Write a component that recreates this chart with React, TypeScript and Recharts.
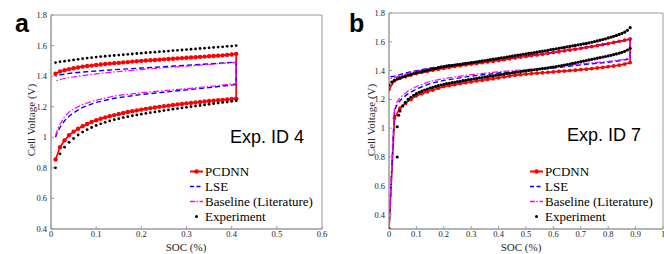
import React from 'react';
import { LineChart, Line, XAxis, YAxis, Legend, ReferenceArea } from 'recharts';

// ---------- Panel a (Exp. ID 4) ----------
const socA = [0.01, 0.02, 0.03, 0.04, 0.05, 0.06, 0.07, 0.08, 0.09, 0.1, 0.11, 0.12, 0.13, 0.14, 0.15, 0.16, 0.17, 0.18, 0.19, 0.2, 0.21, 0.22, 0.23, 0.24, 0.25, 0.26, 0.27, 0.28, 0.29, 0.3, 0.31, 0.32, 0.33, 0.34, 0.35, 0.36, 0.37, 0.38, 0.39, 0.4, 0.41];
const pcdnnA_lower = [0.855, 0.935, 0.98, 1.013, 1.037, 1.056, 1.072, 1.087, 1.1, 1.111, 1.121, 1.13, 1.138, 1.145, 1.152, 1.159, 1.165, 1.171, 1.176, 1.181, 1.186, 1.191, 1.195, 1.199, 1.203, 1.207, 1.211, 1.215, 1.218, 1.222, 1.225, 1.228, 1.231, 1.234, 1.237, 1.24, 1.243, 1.245, 1.248, 1.25, 1.253];
const pcdnnA_upper = [1.416, 1.43, 1.439, 1.446, 1.452, 1.457, 1.462, 1.466, 1.469, 1.473, 1.476, 1.479, 1.482, 1.485, 1.487, 1.49, 1.492, 1.495, 1.497, 1.5, 1.502, 1.504, 1.506, 1.508, 1.51, 1.512, 1.514, 1.516, 1.518, 1.52, 1.522, 1.524, 1.526, 1.528, 1.53, 1.532, 1.534, 1.536, 1.539, 1.542, 1.546];
const expA_upper = [1.489, 1.494, 1.498, 1.502, 1.506, 1.51, 1.514, 1.518, 1.521, 1.525, 1.528, 1.53, 1.533, 1.535, 1.538, 1.54, 1.543, 1.545, 1.548, 1.55, 1.553, 1.555, 1.557, 1.56, 1.562, 1.564, 1.567, 1.569, 1.571, 1.574, 1.576, 1.578, 1.581, 1.583, 1.585, 1.588, 1.59, 1.592, 1.595, 1.597, 1.6];
const expA_lower = [0.8, 0.892, 0.935, 0.967, 0.992, 1.015, 1.034, 1.05, 1.064, 1.077, 1.088, 1.098, 1.107, 1.115, 1.122, 1.129, 1.135, 1.141, 1.146, 1.151, 1.156, 1.161, 1.166, 1.17, 1.175, 1.179, 1.184, 1.188, 1.192, 1.196, 1.2, 1.204, 1.208, 1.212, 1.216, 1.22, 1.224, 1.228, 1.231, 1.235, 1.239];
const socA_lowerSparse = [0.01, 0.015, 0.02, 0.03, 0.04, 0.05, 0.07, 0.1, 0.14, 0.2, 0.25, 0.3, 0.35, 0.41];
const socA_upperSparse = [0.01, 0.02, 0.04, 0.07, 0.1, 0.15, 0.2, 0.25, 0.3, 0.35, 0.41];
const lseA_lower = [1.0, 1.04, 1.065, 1.108, 1.138, 1.16, 1.196, 1.228, 1.255, 1.28, 1.295, 1.31, 1.325, 1.345];
const lseA_upper = [1.398, 1.408, 1.418, 1.427, 1.434, 1.444, 1.453, 1.462, 1.471, 1.48, 1.492];
const baseA_lower = [1.01, 1.055, 1.085, 1.135, 1.165, 1.185, 1.215, 1.243, 1.27, 1.292, 1.305, 1.318, 1.332, 1.352];
const baseA_upper = [1.367, 1.378, 1.391, 1.404, 1.415, 1.43, 1.443, 1.455, 1.466, 1.477, 1.49];
const xTicksA = [0, 0.1, 0.2, 0.3, 0.4, 0.5, 0.6];
const yTicksA = [0.4, 0.6, 0.8, 1, 1.2, 1.4, 1.6, 1.8];

// ---------- Panel b (Exp. ID 7) ----------
const socB2 = [0, 0.02, 0.04, 0.06, 0.08, 0.1, 0.12, 0.14, 0.16, 0.18, 0.2, 0.22, 0.24, 0.26, 0.28, 0.3, 0.32, 0.34, 0.36, 0.38, 0.4, 0.42, 0.44, 0.46, 0.48, 0.5, 0.52, 0.54, 0.56, 0.58, 0.6, 0.62, 0.64, 0.66, 0.68, 0.7, 0.72, 0.74, 0.76, 0.78, 0.8, 0.82, 0.84, 0.86, 0.88];
const pcdnnB_lower = [0.3, 1.07, 1.14, 1.172, 1.2, 1.225, 1.24, 1.253, 1.265, 1.278, 1.289, 1.296, 1.303, 1.31, 1.316, 1.322, 1.328, 1.333, 1.339, 1.344, 1.35, 1.356, 1.362, 1.367, 1.372, 1.376, 1.379, 1.382, 1.385, 1.388, 1.391, 1.394, 1.397, 1.4, 1.403, 1.407, 1.41, 1.414, 1.418, 1.422, 1.427, 1.432, 1.438, 1.445, 1.456];
const pcdnnB_upper = [1.27, 1.33, 1.347, 1.358, 1.369, 1.38, 1.388, 1.395, 1.403, 1.41, 1.417, 1.423, 1.429, 1.434, 1.44, 1.445, 1.45, 1.455, 1.46, 1.465, 1.47, 1.476, 1.482, 1.488, 1.494, 1.499, 1.504, 1.509, 1.514, 1.52, 1.525, 1.531, 1.537, 1.543, 1.549, 1.555, 1.561, 1.567, 1.573, 1.58, 1.587, 1.595, 1.603, 1.611, 1.62];
const socB1 = [0, 0.01, 0.02, 0.03, 0.04, 0.05, 0.06, 0.07, 0.08, 0.09, 0.1, 0.11, 0.12, 0.13, 0.14, 0.15, 0.16, 0.17, 0.18, 0.19, 0.2, 0.21, 0.22, 0.23, 0.24, 0.25, 0.26, 0.27, 0.28, 0.29, 0.3, 0.31, 0.32, 0.33, 0.34, 0.35, 0.36, 0.37, 0.38, 0.39, 0.4, 0.41, 0.42, 0.43, 0.44, 0.45, 0.46, 0.47, 0.48, 0.49, 0.5, 0.51, 0.52, 0.53, 0.54, 0.55, 0.56, 0.57, 0.58, 0.59, 0.6, 0.61, 0.62, 0.63, 0.64, 0.65, 0.66, 0.67, 0.68, 0.69, 0.7, 0.71, 0.72, 0.73, 0.74, 0.75, 0.76, 0.77, 0.78, 0.79, 0.8, 0.81, 0.82, 0.83, 0.84, 0.85, 0.86, 0.87, 0.88];
const expB_upper = [1.3, 1.32, 1.333, 1.342, 1.35, 1.357, 1.363, 1.369, 1.375, 1.38, 1.385, 1.39, 1.394, 1.398, 1.403, 1.407, 1.411, 1.415, 1.42, 1.424, 1.428, 1.431, 1.434, 1.436, 1.439, 1.442, 1.444, 1.447, 1.45, 1.452, 1.455, 1.458, 1.461, 1.464, 1.467, 1.47, 1.473, 1.476, 1.479, 1.482, 1.485, 1.488, 1.491, 1.494, 1.498, 1.501, 1.504, 1.507, 1.51, 1.513, 1.516, 1.519, 1.522, 1.525, 1.528, 1.532, 1.535, 1.538, 1.541, 1.545, 1.548, 1.551, 1.555, 1.558, 1.561, 1.565, 1.568, 1.572, 1.575, 1.579, 1.582, 1.586, 1.589, 1.593, 1.597, 1.602, 1.606, 1.611, 1.616, 1.621, 1.627, 1.632, 1.638, 1.644, 1.651, 1.658, 1.667, 1.68, 1.698];
const expB_startSoc = [0.03, 0.03, 0.035];
const expB_startV = [0.8, 1.01, 1.09];
const expB_lower = [1.12, 1.155, 1.18, 1.2, 1.215, 1.228, 1.24, 1.249, 1.257, 1.265, 1.272, 1.278, 1.284, 1.29, 1.295, 1.3, 1.305, 1.309, 1.312, 1.316, 1.319, 1.323, 1.326, 1.33, 1.333, 1.337, 1.34, 1.343, 1.346, 1.349, 1.352, 1.355, 1.358, 1.361, 1.364, 1.367, 1.37, 1.373, 1.376, 1.379, 1.381, 1.384, 1.387, 1.39, 1.393, 1.396, 1.398, 1.401, 1.403, 1.406, 1.408, 1.411, 1.414, 1.416, 1.419, 1.422, 1.425, 1.428, 1.432, 1.435, 1.439, 1.442, 1.446, 1.45, 1.454, 1.458, 1.462, 1.466, 1.47, 1.474, 1.478, 1.482, 1.486, 1.49, 1.494, 1.498, 1.502, 1.506, 1.511, 1.516, 1.521, 1.527, 1.534, 1.543, 1.555];
const socB_lowerSparse = [0, 0.02, 0.03, 0.04, 0.05, 0.07, 0.1, 0.15, 0.2, 0.3, 0.4, 0.5, 0.6, 0.7, 0.8, 0.85, 0.88];
const socB_upperSparse = [0, 0.02, 0.04, 0.07, 0.1, 0.15, 0.2, 0.3, 0.4, 0.5, 0.6, 0.7, 0.8, 0.85, 0.88];
const lseB_lower = [0.3, 1.125, 1.165, 1.19, 1.21, 1.24, 1.272, 1.31, 1.332, 1.362, 1.383, 1.4, 1.418, 1.44, 1.458, 1.47, 1.482];
const lseB_upper = [1.355, 1.362, 1.372, 1.388, 1.4, 1.418, 1.433, 1.456, 1.478, 1.502, 1.528, 1.556, 1.588, 1.605, 1.618];
const baseB_lower = [0.3, 1.14, 1.185, 1.21, 1.228, 1.258, 1.29, 1.325, 1.345, 1.372, 1.392, 1.407, 1.424, 1.446, 1.464, 1.476, 1.488];
const baseB_upper = [1.343, 1.352, 1.364, 1.382, 1.395, 1.414, 1.43, 1.454, 1.477, 1.501, 1.527, 1.555, 1.587, 1.604, 1.616];
const xTicksB = [0, 0.1, 0.2, 0.3, 0.4, 0.5, 0.6, 0.7, 0.8, 0.9, 1];
const yTicksB = [0.4, 0.6, 0.8, 1, 1.2, 1.4, 1.6, 1.8];

const legendNames = ['PCDNN', 'LSE', 'Baseline (Literature)', 'Experiment'];

// ---------- helpers ----------
type Pt = { x: number; y: number };
const pts = (xs: number[], ys: number[]): Pt[] => xs.map((x, i) => ({ x, y: ys[i] }));
const loop = (xl: number[], yl: number[], xu: number[], yu: number[]): Pt[] => [
  ...pts(xl, yl),
  ...pts(xu, yu).reverse(),
];

const RED = '#ff0000';
const BLUE = '#0000ff';
const MAG = '#ff00ff';
const AXIS = '#9a9a9a';
const SERIF = "'Liberation Serif', 'DejaVu Serif', 'Times New Roman', serif";
const SANS = "'Liberation Sans', Arial, sans-serif";

const tickStyle = { fontFamily: SERIF, fontSize: 8.5, fill: '#262626' };

const LegendBox = () => (
  <div style={{ fontFamily: SERIF, fontSize: 13, color: '#000', lineHeight: '15px' }}>
    {legendNames.map((name, i) => (
      <div key={name} style={{ display: 'flex', alignItems: 'center', height: 15 }}>
        <svg width={14} height={15} style={{ flex: 'none' }}>
          {i === 0 && (
            <g>
              <line x1={0} y1={7.5} x2={13} y2={7.5} stroke={RED} strokeWidth={2} />
              <circle cx={6.5} cy={7.5} r={2.2} fill={RED} />
            </g>
          )}
          {i === 1 && <line x1={0} y1={7.5} x2={13} y2={7.5} stroke={BLUE} strokeWidth={1.6} strokeDasharray="4 2.5" />}
          {i === 2 && <line x1={0} y1={7.5} x2={13} y2={7.5} stroke={MAG} strokeWidth={1.4} strokeDasharray="5 1.5 1.5 1.5" />}
          {i === 3 && <circle cx={6.5} cy={7.5} r={1.5} fill="#000" />}
        </svg>
        <span style={{ marginLeft: 1, whiteSpace: 'nowrap', fontFamily: SERIF }}>{name}</span>
      </div>
    ))}
  </div>
);

type PanelProps = {
  width: number;
  yAxisWidth: number;
  marginTop: number;
  marginRight: number;
  xDomain: [number, number];
  yDomain: [number, number];
  xTicks: number[];
  yTicks: number[];
  pcdnn: Pt[];
  lse: Pt[];
  base: Pt[];
  exp: Pt[];
  pcdnnDotR: number;
  expDotR: number;
  letter: string;
  letterX: number;
  expLabel: string;
  expX: number;
  expY: number;
  yLabelX: number;
  yLabelY: number;
  xLabelX: number;
  legendLeft: number;
};

const Panel = (p: PanelProps) => (
  <LineChart
    width={p.width}
    height={254}
    margin={{ top: p.marginTop, right: p.marginRight, bottom: 0, left: 0 }}
  >
    <XAxis
      dataKey="x"
      type="number"
      domain={p.xDomain}
      ticks={p.xTicks}
      interval={0}
      allowDataOverflow
      height={25}
      tick={tickStyle}
      tickSize={-3}
      tickMargin={5}
      axisLine={{ stroke: AXIS }}
      tickLine={{ stroke: AXIS }}
      tickFormatter={(v: number) => String(v)}
    />
    <YAxis
      type="number"
      domain={p.yDomain}
      ticks={p.yTicks}
      interval={0}
      allowDataOverflow
      width={p.yAxisWidth}
      tick={tickStyle}
      tickSize={-3}
      tickMargin={7}
      axisLine={{ stroke: AXIS }}
      tickLine={{ stroke: AXIS }}
      tickFormatter={(v: number) => String(v)}
    />
    <ReferenceArea
      x1={p.xDomain[0]}
      x2={p.xDomain[1]}
      y1={p.yDomain[0]}
      y2={p.yDomain[1]}
      fill="none"
      stroke={AXIS}
      strokeWidth={1}
      fillOpacity={0}
    />
    <Line
      data={p.pcdnn}
      dataKey="y"
      name="PCDNN"
      type="linear"
      stroke={RED}
      strokeWidth={1.7}
      dot={{ r: p.pcdnnDotR, fill: RED, stroke: 'none' }}
      isAnimationActive={false}
    />
    <Line
      data={p.lse}
      dataKey="y"
      name="LSE"
      type="linear"
      stroke={BLUE}
      strokeWidth={1.4}
      strokeDasharray="5 3"
      dot={false}
      isAnimationActive={false}
    />
    <Line
      data={p.base}
      dataKey="y"
      name="Baseline (Literature)"
      type="linear"
      stroke={MAG}
      strokeWidth={1.2}
      strokeDasharray="6 2 1.5 2"
      dot={false}
      isAnimationActive={false}
    />
    <Line
      data={p.exp}
      dataKey="y"
      name="Experiment"
      type="linear"
      stroke="none"
      strokeWidth={0}
      dot={{ r: p.expDotR, fill: '#000', stroke: 'none' }}
      isAnimationActive={false}
    />
    <Legend
      layout="vertical"
      align="center"
      verticalAlign="middle"
      wrapperStyle={{ left: p.legendLeft, top: 164, width: 140, height: 62, right: 'auto', bottom: 'auto' }}
      content={() => <LegendBox />}
    />
    <text
      x={p.yLabelX}
      y={p.yLabelY}
      transform={`rotate(-90 ${p.yLabelX} ${p.yLabelY})`}
      textAnchor="middle"
      fontFamily={SERIF}
      fontSize={11}
      fill="#262626"
    >
      Cell Voltage (V)
    </text>
    <text x={p.xLabelX} y={250.5} textAnchor="middle" fontFamily={SERIF} fontSize={11} fill="#262626">
      SOC (%)
    </text>
    <text x={p.expX} y={p.expY} fontFamily={SANS} fontSize={18} fill="#000">
      {p.expLabel}
    </text>
    <text x={p.letterX} y={32} fontFamily={SANS} fontSize={25} fontWeight={700} fill="#000">
      {p.letter}
    </text>
  </LineChart>
);

export default function App() {
  const pcdnnA = loop(socA, pcdnnA_lower, socA, pcdnnA_upper);
  const lseA = loop(socA_lowerSparse, lseA_lower, socA_upperSparse, lseA_upper);
  const baseA = loop(socA_lowerSparse, baseA_lower, socA_upperSparse, baseA_upper);
  const expA = [...pts(socA, expA_lower), ...pts(socA, expA_upper)];

  const pcdnnB = loop(socB2, pcdnnB_lower, socB2, pcdnnB_upper);
  const lseB = loop(socB_lowerSparse, lseB_lower, socB_upperSparse, lseB_upper);
  const baseB = loop(socB_lowerSparse, baseB_lower, socB_upperSparse, baseB_upper);
  const expB = [
    ...pts(expB_startSoc, expB_startV),
    ...pts(socB1.slice(4), expB_lower),
    ...pts(socB1, expB_upper),
  ];

  return (
    <div style={{ position: 'absolute', left: 0, top: 0, width: 664, height: 254, background: '#fff' }}>
      <div style={{ position: 'absolute', left: 0, top: 0 }}>
        <Panel
          width={330}
          yAxisWidth={51}
          marginTop={15}
          marginRight={8}
          xDomain={[0, 0.6]}
          yDomain={[0.4, 1.8]}
          xTicks={xTicksA}
          yTicks={yTicksA}
          pcdnn={pcdnnA}
          lse={lseA}
          base={baseA}
          exp={expA}
          pcdnnDotR={2.2}
          expDotR={1.4}
          letter="a"
          letterX={15}
          expLabel="Exp. ID 4"
          expX={230}
          expY={143}
          yLabelX={35}
          yLabelY={120}
          xLabelX={186}
          legendLeft={190}
        />
      </div>
      <div style={{ position: 'absolute', left: 330, top: 0 }}>
        <Panel
          width={334}
          yAxisWidth={59}
          marginTop={13}
          marginRight={1}
          xDomain={[0, 1]}
          yDomain={[0.3, 1.8]}
          xTicks={xTicksB}
          yTicks={yTicksB}
          pcdnn={pcdnnB}
          lse={lseB}
          base={baseB}
          exp={expB}
          pcdnnDotR={1.9}
          expDotR={1.6}
          letter="b"
          letterX={19}
          expLabel="Exp. ID 7"
          expX={237}
          expY={141}
          yLabelX={45}
          yLabelY={120}
          xLabelX={191}
          legendLeft={200}
        />
      </div>
    </div>
  );
}
